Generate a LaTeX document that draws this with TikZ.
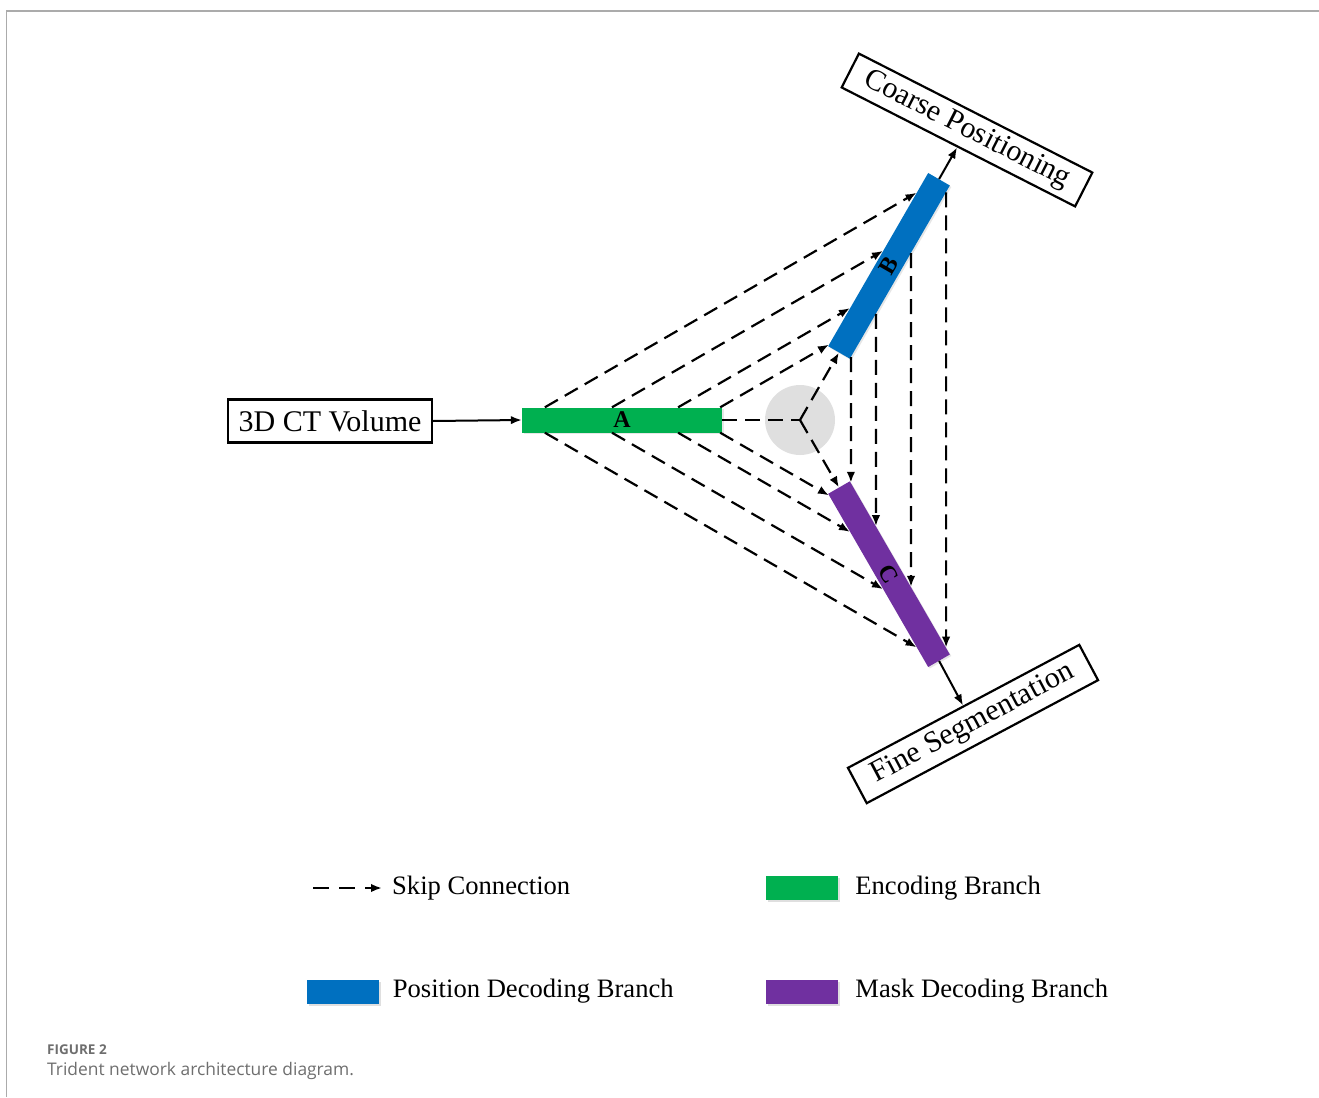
\documentclass[tikz,border=0pt]{standalone}
\usepackage{fontspec}
\setmainfont{Liberation Serif}
\newfontfamily\capfont{Open Sans}
\usetikzlibrary{arrows.meta,calc,positioning,shadows}
\definecolor{EncGreen}{HTML}{00B050}
\definecolor{PosBlue}{HTML}{0070C0}
\definecolor{MaskPurple}{HTML}{7030A0}
\definecolor{FrameGray}{HTML}{ABABAB}
\definecolor{CapGray}{HTML}{6E6E6E}

\begin{document}
\begin{tikzpicture}[x=1pt,y=1pt,>={Latex[length=11pt,width=8.5pt]},
  iobox/.style={draw,line width=2.2pt,inner sep=4pt,font=\fontsize{30}{34}\selectfont},
  branch/.style={minimum width=200pt,minimum height=25pt,inner sep=0pt,
    font=\bfseries\fontsize{24}{26}\selectfont,
    drop shadow={opacity=.2,shadow xshift=1.5pt,shadow yshift=-1.5pt}},
  swatch/.style={minimum width=72pt,minimum height=24pt,inner sep=0pt,
    drop shadow={opacity=.25,shadow xshift=2pt,shadow yshift=-2pt}},
  skipline/.style={->,dash pattern=on 15pt off 8pt,line width=2.2pt},
  solidlink/.style={->,line width=2pt},
  legtext/.style={anchor=west,inner sep=0pt,font=\fontsize{26.6}{30}\selectfont}]
  \useasboundingbox (0,0) rectangle (1319,-1097);
  % frame of the figure panel
  \draw[FrameGray,line width=1.5pt] (1319,-11) -- (6.5,-11) -- (6.5,-1097);

  % trident: three branches round one joint
  \coordinate (O) at (800,-420);
  \fill[gray!25] (O) circle (35);
  \node[branch,fill=EncGreen] (A) at ($(O)+(180:178)$) {A};
  \node[branch,fill=PosBlue,rotate=60] (B) at ($(O)+(60:178)$) {B};
  \node[branch,fill=MaskPurple,rotate=-60] (C) at ($(O)+(-60:178)$) {C};

  \node[iobox,minimum width=204pt,minimum height=43pt] (In) at (330,-421) {3D CT Volume};
  \node[iobox,rotate=-27,minimum width=262pt,minimum height=38pt] (Coarse) at (967,-130) {Coarse Positioning};
  \node[iobox,rotate=28,minimum width=262pt,minimum height=40pt] (Fine) at (973,-724) {Fine Segmentation};

  \draw[solidlink] (In.east) -- (A.west);
  \draw[solidlink] (B.east) -- (Coarse);
  \draw[solidlink] (C.east) -- (Fine);

  % joint
  \draw[dash pattern=on 15pt off 8pt,line width=2.2pt] (A.east) -- (O);
  \draw[skipline] (O) -- (B.west);
  \draw[skipline] (O) -- (C.west);

  % skip connections
  \foreach \t in {0.01,0.22,0.55,0.885} {
    \draw[skipline] ($(A.north east)!\t!(A.north west)$) -- ($(B.north west)!\t!(B.north east)$);
    \draw[skipline] ($(A.south east)!\t!(A.south west)$) -- ($(C.south west)!\t!(C.south east)$);
  }
  \foreach \t in {0.01,0.26,0.61,0.96}
    \draw[skipline] ($(B.south west)!\t!(B.south east)$) -- ($(C.north west)!\t!(C.north east)$);

  % legend
  \coordinate (skipA) at (313,-888);
  \coordinate (skipB) at (382,-888);
  \draw[->,dash pattern=on 16pt off 10pt,line width=2.2pt] (skipA) -- (skipB);
  \node[legtext] (legSkip) at (392,-888) {Skip Connection};
  \node[swatch,fill=EncGreen] (legEnc) at (802,-888) {};
  \node[legtext,right=17pt of legEnc] (legEncT) {Encoding Branch};
  \node[swatch,fill=PosBlue] (legPos) at (342.5,-991.5) {};
  \node[legtext,right=14pt of legPos] (legPosT) {Position Decoding Branch};
  \node[swatch,fill=MaskPurple] (legMask) at (802,-991.5) {};
  \node[legtext,right=17pt of legMask] (legMaskT) {Mask Decoding Branch};

  % caption
  \node[anchor=base west,inner sep=0pt,text=CapGray,font=\capfont\bfseries\fontsize{13.5}{16}\selectfont] (figNum) at (47,-1054) {FIGURE 2};
  \node[anchor=base west,inner sep=0pt,text=CapGray,font=\capfont\fontsize{17.4}{20}\selectfont] (figCap) at (47,-1075) {Trident network architecture diagram.};
\end{tikzpicture}
\end{document}
